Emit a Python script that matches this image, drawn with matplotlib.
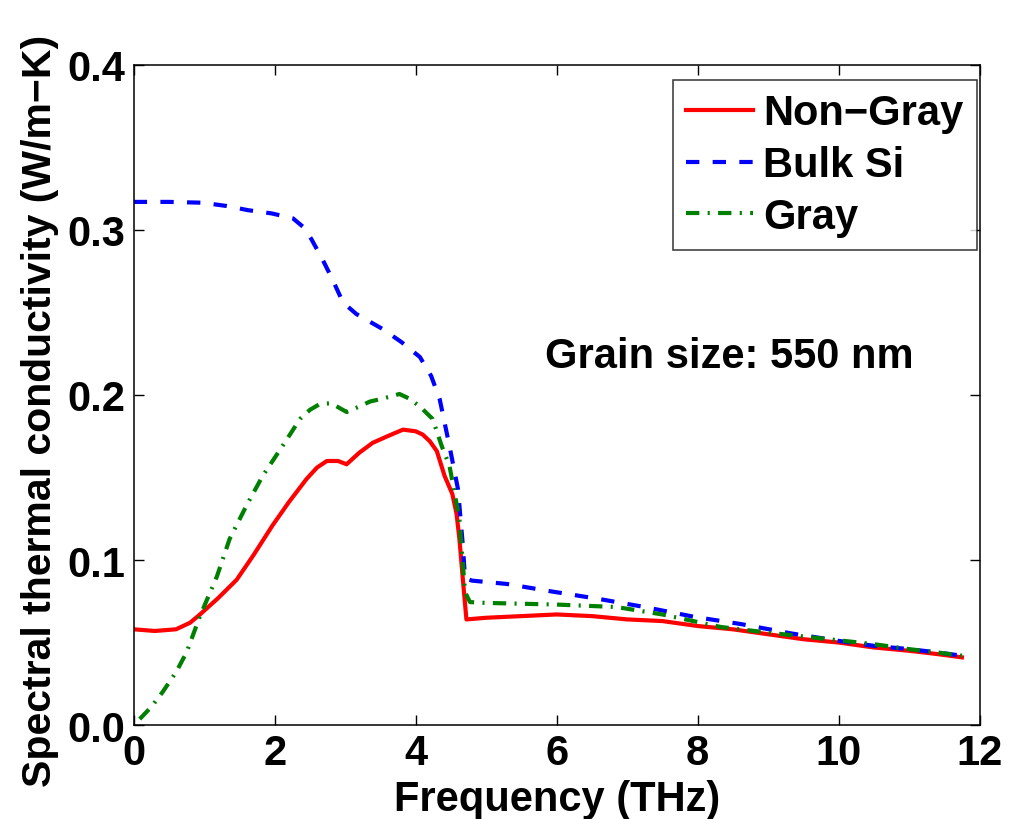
import matplotlib
matplotlib.use("Agg")
import matplotlib.pyplot as plt

plt.rcParams['font.family'] = ['Liberation Sans', 'DejaVu Sans']
plt.rcParams['font.weight'] = 'bold'

# Non-Gray (red, solid)
ng_x = [0, 0.3, 0.6, 0.8, 0.94, 1.2, 1.46, 1.7, 1.97, 2.2, 2.45, 2.6, 2.74, 2.9, 3.02,
        3.2, 3.39, 3.6, 3.82, 4.0, 4.1, 4.2, 4.3, 4.41, 4.52, 4.58, 4.62, 4.67, 4.72,
        5.0, 5.5, 6.0, 6.5, 7.0, 7.5, 8.0, 8.5, 9.0, 9.5, 10.0, 10.5, 11.0, 11.4, 11.75]
ng_y = [0.058, 0.057, 0.058, 0.062, 0.067, 0.077, 0.088, 0.103, 0.121, 0.135, 0.149, 0.156,
        0.160, 0.160, 0.158, 0.165, 0.171, 0.175, 0.179, 0.178, 0.176, 0.172, 0.166, 0.151,
        0.140, 0.128, 0.113, 0.088, 0.064, 0.065, 0.066, 0.067, 0.066, 0.064, 0.063, 0.060,
        0.058, 0.055, 0.052, 0.050, 0.047, 0.045, 0.043, 0.041]

# Bulk Si (blue, dashed)
bulk_x = [0, 0.5, 0.98, 1.32, 1.62, 1.96, 2.26, 2.4, 2.52, 2.68, 2.82, 2.97, 3.16, 3.53, 3.8,
          4.06, 4.22, 4.34, 4.48, 4.6, 4.67, 4.70, 4.8, 5.29, 5.95, 6.6, 7.25, 7.96, 8.61,
          9.33, 10.0, 10.5, 11.0, 11.4, 11.75]
bulk_y = [0.317, 0.317, 0.3165, 0.3145, 0.312, 0.310, 0.307, 0.302, 0.2945, 0.282, 0.270,
          0.256, 0.249, 0.240, 0.232, 0.223, 0.2115, 0.1976, 0.169, 0.143, 0.1085, 0.089,
          0.0875, 0.0855, 0.0808, 0.0764, 0.0715, 0.0655, 0.0612, 0.0555, 0.051, 0.048,
          0.046, 0.044, 0.042]

# Gray (green, dash-dot)
gray_x = [0.085, 0.25, 0.41, 0.6, 0.75, 0.94, 1.18, 1.36, 1.6, 1.83, 2.11, 2.36, 2.5, 2.64,
          2.8, 3.02, 3.2, 3.35, 3.55, 3.77, 3.9, 4.06, 4.24, 4.37, 4.48, 4.62, 4.7, 4.77,
          5.0, 5.5, 6.0, 6.85, 7.5, 8.33, 9.0, 9.86, 10.5, 11.0, 11.4, 11.75]
gray_y = [0.0036, 0.011, 0.020, 0.032, 0.044, 0.066, 0.090, 0.1127, 0.133, 0.151, 0.169,
          0.1855, 0.191, 0.1945, 0.195, 0.1897, 0.193, 0.196, 0.198, 0.2006, 0.198, 0.193,
          0.1855, 0.169, 0.157, 0.125, 0.0806, 0.0745, 0.074, 0.0735, 0.073, 0.0715, 0.067,
          0.0594, 0.056, 0.052, 0.049, 0.046, 0.044, 0.042]

x_ticks = [0, 2, 4, 6, 8, 10, 12]
y_ticks = [0.0, 0.1, 0.2, 0.3, 0.4]

fig = plt.figure(figsize=(10.13, 8.2), dpi=100)
ax = fig.add_axes([0.132, 0.1146, 0.835, 0.805])

ax.plot(ng_x, ng_y, color='#ff0000', lw=3, label='Non\u2212Gray')
ax.plot(bulk_x, bulk_y, color='#0000ff', lw=3, dashes=(3.2, 3.2), label='Bulk Si')
ax.plot(gray_x, gray_y, color='#008000', lw=3, dashes=(3.2, 2.0, 0.5, 2.0), label='Gray')

ax.set_xlim(0, 12)
ax.set_ylim(0, 0.4)
ax.set_xticks(x_ticks)
ax.set_yticks(y_ticks)
ax.set_xticklabels([str(t) for t in x_ticks])
ax.set_yticklabels(['%.1f' % t for t in y_ticks])
ax.tick_params(direction='in', length=7, width=1, top=True, right=True,
               labelsize=30, pad=6)
for s in ax.spines.values():
    s.set_linewidth(1.1)

ax.set_xlabel('Frequency (THz)', fontsize=30, fontweight='bold', labelpad=4)
ax.set_ylabel('Spectral thermal conductivity (W/m\u2212K)', fontsize=29.5,
              fontweight='bold')
ax.yaxis.set_label_coords(-0.088, 0.477)

ax.text(5.83, 0.2236, 'Grain size: 550 nm', fontsize=30, fontweight='bold',
        ha='left', va='center')

leg = ax.legend(loc='upper right', bbox_to_anchor=(0.9965, 0.977), fontsize=30,
                frameon=True, fancybox=False, handlelength=1.6, handletextpad=0.25,
                labelspacing=0.28, borderpad=0.32, borderaxespad=0)
leg.get_frame().set_edgecolor('black')
leg.get_frame().set_linewidth(1.1)

fig.savefig('out.png', dpi=100)
